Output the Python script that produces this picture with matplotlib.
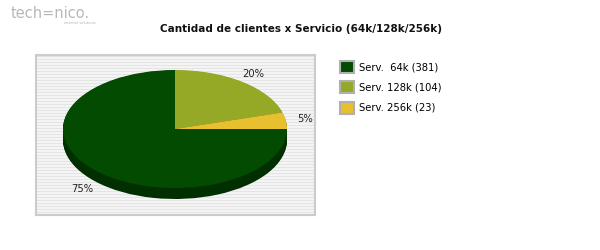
import matplotlib
matplotlib.use("Agg")
import matplotlib.pyplot as plt
import numpy as np

services = ["Serv.  64k", "Serv. 128k", "Serv. 256k"]
clients = [381, 104, 23]
top_colors = ["#034b01", "#96a927", "#e7bf2f"]
side_colors = ["#012f00", "#5c6a14", "#8f7410"]

W, H = 600, 250
fig = plt.figure(figsize=(W / 100, H / 100), dpi=100)

# plot box in pixels (left, top, right, bottom)
bx0, by0, bx1, by1 = 36, 55, 315, 215
# pie ellipse center / radii in pixels
cx, cy, rx, ry, depth = 175, 129, 112, 59, 11


def fig_rect(x0, y0, x1, y1):
    return [x0 / W, 1 - y1 / H, (x1 - x0) / W, (y1 - y0) / H]


# striped background
bg = fig.add_axes(fig_rect(bx0, by0, bx1, by1))
bg.set_xlim(0, 1)
bg.set_ylim(by1 - by0, 0)
bg.set_facecolor("#f7f7f7")
for yy in np.arange(1, by1 - by0, 3):
    bg.axhline(yy, color="#e4e4e4", lw=0.9)
bg.set_xticks([])
bg.set_yticks([])
for s in bg.spines.values():
    s.set_color("#cccccc")
    s.set_linewidth(1.5)

# pie axes: data units scaled so that radius 1 gives the ellipse
ax = fig.add_axes(fig_rect(bx0, by0, bx1, by1))
ax.patch.set_alpha(0)
d = depth / ry
for off in np.linspace(d, 0.01, 14):
    ax.pie(clients, colors=side_colors, startangle=0, counterclock=False,
           center=(0, -off), wedgeprops=dict(linewidth=0))
wedges, _, pcts = ax.pie(clients, colors=top_colors, startangle=0, counterclock=False,
                         autopct="%.0f%%", pctdistance=1.17,
                         wedgeprops=dict(linewidth=0),
                         textprops=dict(fontsize=7.2, color="#222222"))
for t in pcts:
    x, y = t.get_position()
    if y < 0:
        t.set_position((x, y - d))
ax.set_aspect("auto")
ax.set_xlim((bx0 - cx) / rx, (bx1 - cx) / rx)
ax.set_ylim((cy - by1) / ry, (cy - by0) / ry)
ax.axis("off")

# legend
leg = fig.legend(wedges, [f"{s} ({n})" for s, n in zip(services, clients)],
                 loc="upper left", bbox_to_anchor=(339 / W, 1 - 60 / H),
                 frameon=False, fontsize=7.2, handlelength=1.45, handleheight=1.45,
                 handletextpad=0.45, labelspacing=0.85, borderaxespad=0,
                 borderpad=0.1)
for h in leg.legend_handles:
    h.set_edgecolor("#b0b0b0")
    h.set_linewidth(1.5)

fig.text(301 / W, 1 - 29 / H, "Cantidad de clientes x Servicio (64k/128k/256k)",
         ha="center", va="center", fontsize=7.5, fontweight="bold", color="#111111")

# logo
fig.text(11 / W, 1 - 13 / H, "tech=nico.", ha="left", va="center",
         fontsize=10.5, color="#b8b8b8")
fig.text(64 / W, 1 - 23 / H, "internet solutions", ha="left", va="center",
         fontsize=2.5, color="#b0b0b0")

fig.savefig("out.png", dpi=100)
